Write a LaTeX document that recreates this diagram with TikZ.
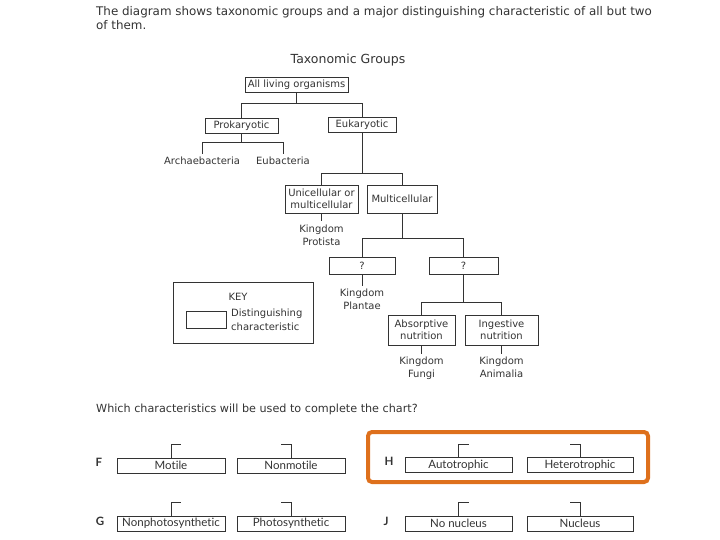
\documentclass[tikz,border=0pt]{standalone}
\usepackage{fontspec}
\setmainfont{DejaVu Sans}
\newfontfamily\choicefont[Ligatures=NoCommon]{Lato}
\definecolor{ink}{gray}{0.2}
\definecolor{answer}{RGB}{222,112,28}

\begin{document}
\begin{tikzpicture}[x=1pt, y=-1pt, every node/.style={text=ink},
	trait/.style={draw=ink, line width=0.9pt, font=\fontsize{10}{12.5}\selectfont, align=center, inner sep=1pt, minimum height=15pt},
	taxon/.style={font=\fontsize{10}{13}\selectfont, align=center, inner sep=3pt, anchor=north},
	choice/.style={draw=ink, line width=0.8pt, font=\choicefont\fontsize{11.5}{13}\selectfont, minimum width=108pt, minimum height=15pt, inner sep=0pt},
	letter/.style={font=\choicefont\bfseries\fontsize{11.5}{13}\selectfont},
	link/.style={draw=ink, line width=0.9pt}]
	\useasboundingbox (0,0) rectangle (720,540);
	\node[anchor=north west, align=left, inner sep=0pt, font=\fontsize{11.9}{14.5}\selectfont] (intro) at (96,6) {The diagram shows taxonomic groups and a major distinguishing characteristic of all but two\\of them.};
	\node[font=\fontsize{12.5}{15}\selectfont] (title) at (348,60) {Taxonomic Groups};
	% tree
	\node[trait, minimum width=103pt] (all) at (296.5,85) {All living organisms};
	\node[trait, minimum width=73pt] (pro) at (241.5,125.5) {Prokaryotic};
	\node[trait, minimum width=68pt] (eu) at (362,125) {Eukaryotic};
	\node[taxon] (arch) at (202,154) {Archaebacteria};
	\node[taxon] (eub) at (283,154) {Eubacteria};
	\node[trait, minimum width=73pt, minimum height=28pt] (uni) at (321.5,199) {Unicellular or\\multicellular};
	\node[trait, minimum width=70pt, minimum height=28pt] (multi) at (402,199) {Multicellular};
	\node[taxon] (protista) at (321.5,221.5) {Kingdom\\Protista};
	\node[trait, minimum width=66pt, minimum height=17pt] (q1) at (362,265.5) {?};
	\node[trait, minimum width=69pt, minimum height=17pt] (q2) at (463.5,265.5) {?};
	\node[taxon] (plantae) at (362,286) {Kingdom\\Plantae};
	\node[trait, minimum width=67pt, minimum height=30pt] (abs) at (421.5,330) {Absorptive\\nutrition};
	\node[trait, minimum width=73pt, minimum height=30pt] (ing) at (501.5,330) {Ingestive\\nutrition};
	\node[taxon] (fungi) at (421.5,354) {Kingdom\\Fungi};
	\node[taxon] (animalia) at (501.5,354) {Kingdom\\Animalia};
	\foreach \kid in {pro,eu} {\draw[link] (all.south) -- ++(0,11) -| (\kid.north);}
	\foreach \kid in {arch,eub} {\draw[link] (pro.south) -- ++(0,9) -| (\kid.north);}
	\foreach \kid in {uni,multi} {\draw[link] (eu.south) -- ++(0,41) -| (\kid.north);}
	\foreach \kid in {q1,q2} {\draw[link] (multi.south) -- ++(0,25) -| (\kid.north);}
	\foreach \kid in {abs,ing} {\draw[link] (q2.south) -- ++(0,28) -| (\kid.north);}
	\draw[link] (uni.south) -- (protista.north);
	\draw[link] (q1.south) -- (plantae.north);
	\draw[link] (abs.south) -- (fungi.north);
	\draw[link] (ing.south) -- (animalia.north);
	% key
	\node[draw=ink, line width=0.9pt, minimum width=140pt, minimum height=61pt] (key) at (243,312.5) {};
	\node[font=\fontsize{10}{12}\selectfont] (keytitle) at (238,297) {KEY};
	\node[draw=ink, line width=0.9pt, minimum width=40pt, minimum height=17pt] (keysample) at (206,319.5) {};
	\node[anchor=west, align=left, inner sep=1pt, font=\fontsize{10}{13.5}\selectfont] (keytext) at (230,320) {Distinguishing\\characteristic};
	% question and options
	\node[anchor=base west, inner sep=0pt, font=\fontsize{11.2}{13}\selectfont] (question) at (96,412) {Which characteristics will be used to complete the chart?};
	\node[letter] (optF) at (99,462) {F};
	\node[letter] (optH) at (389,461) {H};
	\node[letter] (optG) at (100,521) {G};
	\node[letter] (optJ) at (386,521) {J};
	\node[choice] (motile) at (171,465.5) {Motile};
	\node[choice] (nonmotile) at (291,465.5) {Nonmotile};
	\node[choice, minimum width=107pt] (auto) at (458.5,465) {Autotrophic};
	\node[choice, minimum width=106pt] (hetero) at (580,465) {Heterotrophic};
	\node[choice] (nonphoto) at (171,523.5) {Nonphotosynthetic};
	\node[choice] (photo) at (291,523.5) {Photosynthetic};
	\node[choice, minimum width=107pt] (nonuc) at (458.5,523.5) {No nucleus};
	\node[choice, minimum width=106pt] (nuc) at (580,523.5) {Nucleus};
	\foreach \opt in {motile,auto,nonphoto,nonuc} {\draw[link, line width=0.8pt] (\opt.north) -- ++(0,-13) -- ++(10,0);}
	\foreach \opt in {nonmotile,hetero,photo,nuc} {\draw[link, line width=0.8pt] (\opt.north) -- ++(0,-13) -- ++(-10,0);}
	\draw[answer, line width=4pt, rounded corners=4pt] (368,432) rectangle (648,482);
\end{tikzpicture}
\end{document}
